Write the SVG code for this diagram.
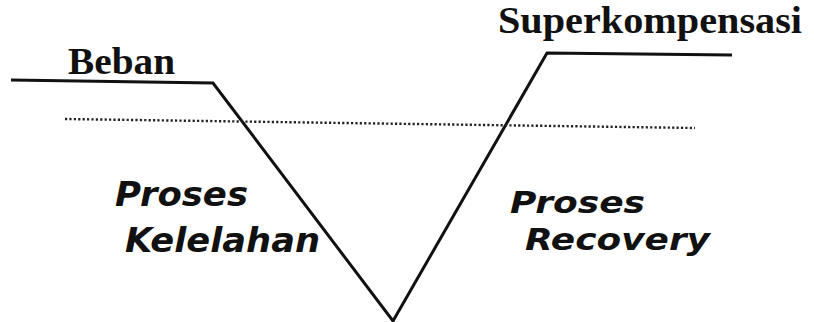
<svg xmlns="http://www.w3.org/2000/svg" width="814" height="322" viewBox="0 0 814 322">
<style>
.main{fill:none;stroke:#111;stroke-width:3;stroke-linejoin:miter}
.dot{fill:none;stroke:#222;stroke-width:2.4;stroke-dasharray:2.2 2.2}
.serif{font-family:"Liberation Serif","Times New Roman",serif;font-weight:bold;fill:#111}
.sans{font-family:"DejaVu Sans",Verdana,sans-serif;font-weight:bold;font-style:italic;fill:#111}
</style>
<rect width="814" height="322" fill="#fff"/>
<g id="connectors">
<polyline class="main" points="11,80 213,83 393,321 547,53 732,55"/>
<line class="dot" x1="65" y1="119" x2="695" y2="128"/>
</g>
<g id="beban"><text class="serif" x="68" y="74" font-size="37" textLength="107" lengthAdjust="spacingAndGlyphs">Beban</text></g>
<g id="superkompensasi"><text class="serif" x="498" y="33" font-size="38" textLength="304" lengthAdjust="spacingAndGlyphs">Superkompensasi</text></g>
<g id="kelelahan">
<text class="sans" x="115" y="206" font-size="33" textLength="133" lengthAdjust="spacingAndGlyphs">Proses</text>
<text class="sans" x="125" y="252" font-size="33" textLength="195" lengthAdjust="spacingAndGlyphs">Kelelahan</text>
</g>
<g id="recovery">
<text class="sans" x="510" y="213" font-size="31" textLength="135" lengthAdjust="spacingAndGlyphs">Proses</text>
<text class="sans" x="525" y="250" font-size="31" textLength="185" lengthAdjust="spacingAndGlyphs">Recovery</text>
</g>
</svg>
